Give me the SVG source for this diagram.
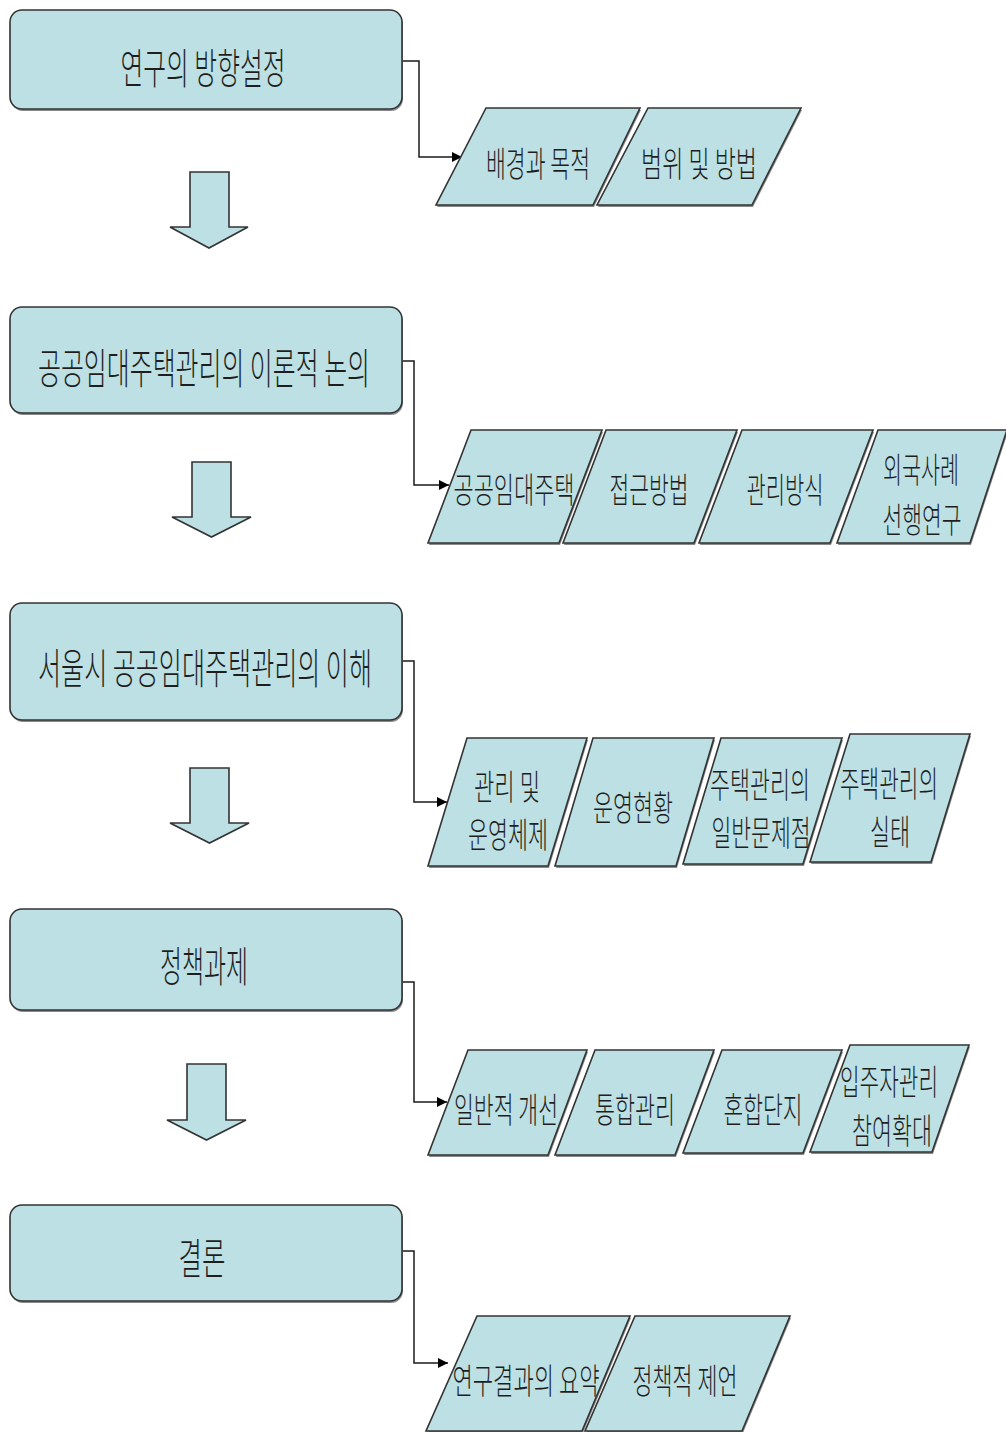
<svg xmlns="http://www.w3.org/2000/svg" width="1006" height="1432" viewBox="0 0 1006 1432">
  <defs>
    <style>
      .box { fill: #bce0e3; stroke: #333333; stroke-width: 1.6; }
      .shadow { fill: #8a8a8a; stroke: none; }
      .step { fill: #bce0e3; stroke: #333333; stroke-width: 1.6; stroke-linejoin: miter; }
      .down { fill: #bce0e3; stroke: #333333; stroke-width: 1.6; }
      .link { fill: none; stroke: #1a1a1a; stroke-width: 1.5; }
      .tb { font-family: "Noto Sans CJK KR", "Noto Sans", sans-serif; font-size: 42px; font-weight: 300; fill: #1e1e1e; text-anchor: middle; dominant-baseline: central; }
      .tp { font-family: "Noto Sans CJK KR", "Noto Sans", sans-serif; font-size: 35px; font-weight: 300; fill: #1e1e1e; text-anchor: middle; dominant-baseline: central; }
    </style>
    <marker id="head" viewBox="0 0 10 10" refX="10" refY="5" markerWidth="10" markerHeight="11" markerUnits="userSpaceOnUse" orient="auto">
      <path d="M0,0 L10,5 L0,10 z" fill="#000"/>
    </marker>
  </defs>

  <rect width="1006" height="1432" fill="#ffffff"/>

  <!-- connectors from each stage to its topic row -->
  <g id="connectors">
    <path class="link" d="M402,61 H419 V157 H462" marker-end="url(#head)"/>
    <path class="link" d="M402,361 H414 V485 H449" marker-end="url(#head)"/>
    <path class="link" d="M402,661 H414 V802 H447" marker-end="url(#head)"/>
    <path class="link" d="M402,982 H414 V1102 H447" marker-end="url(#head)"/>
    <path class="link" d="M402,1251 H414 V1363 H448" marker-end="url(#head)"/>
  </g>

  <!-- stage 1 -->
  <g id="stage1">
    <rect class="shadow" x="11" y="12" width="392" height="99" rx="12"/>
    <rect class="box" x="10" y="10" width="392" height="99" rx="12"/>
    <text class="tb" x="203" y="65" textLength="165" lengthAdjust="spacingAndGlyphs">연구의 방향설정</text>
  </g>
  <g id="arrow1">
    <polygon class="down" points="190,172 229,172 229,227 248,227 209,248 170,227 190,227"/>
  </g>
  <g id="s1-a">
    <polygon class="shadow" points="487,110 641,110 594,207 437,207"/>
    <polygon class="step" points="486,108 640,108 593,205 436,205"/>
    <text class="tp" x="538" y="161" textLength="104" lengthAdjust="spacingAndGlyphs">배경과 목적</text>
  </g>
  <g id="s1-b">
    <polygon class="shadow" points="649,110 802,110 753,207 598,207"/>
    <polygon class="step" points="648,108 801,108 752,205 597,205"/>
    <text class="tp" x="699" y="161" textLength="116" lengthAdjust="spacingAndGlyphs">범위 및 방법</text>
  </g>

  <!-- stage 2 -->
  <g id="stage2">
    <rect class="shadow" x="11" y="309" width="392" height="106" rx="12"/>
    <rect class="box" x="10" y="307" width="392" height="106" rx="12"/>
    <text class="tb" x="204" y="365" textLength="332" lengthAdjust="spacingAndGlyphs">공공임대주택관리의 이론적 논의</text>
  </g>
  <g id="arrow2">
    <polygon class="down" points="192,462 231,462 231,517 251,517 211.5,537 172,517 192,517"/>
  </g>
  <g id="s2-a">
    <polygon class="shadow" points="472,432 603,432 560,545 429,545"/>
    <polygon class="step" points="471,430 602,430 559,543 428,543"/>
    <text class="tp" x="514" y="487" textLength="121" lengthAdjust="spacingAndGlyphs">공공임대주택</text>
  </g>
  <g id="s2-b">
    <polygon class="shadow" points="607,432 738,432 695,545 564,545"/>
    <polygon class="step" points="606,430 737,430 694,543 563,543"/>
    <text class="tp" x="649" y="487" textLength="79" lengthAdjust="spacingAndGlyphs">접근방법</text>
  </g>
  <g id="s2-c">
    <polygon class="shadow" points="743,432 874,432 831,545 700,545"/>
    <polygon class="step" points="742,430 873,430 830,543 699,543"/>
    <text class="tp" x="785" y="487" textLength="77" lengthAdjust="spacingAndGlyphs">관리방식</text>
  </g>
  <g id="s2-d">
    <polygon class="shadow" points="879,432 1008,432 971,545 838,545"/>
    <polygon class="step" points="878,430 1007,430 970,543 837,543"/>
    <text class="tp" x="921" y="467" textLength="76" lengthAdjust="spacingAndGlyphs">외국사례</text>
    <text class="tp" x="922" y="517" textLength="79" lengthAdjust="spacingAndGlyphs">선행연구</text>
  </g>

  <!-- stage 3 -->
  <g id="stage3">
    <rect class="shadow" x="11" y="605" width="392" height="117" rx="12"/>
    <rect class="box" x="10" y="603" width="392" height="117" rx="12"/>
    <text class="tb" x="205" y="665" textLength="334" lengthAdjust="spacingAndGlyphs">서울시 공공임대주택관리의 이해</text>
  </g>
  <g id="arrow3">
    <polygon class="down" points="190,768 229,768 229,823 249,823 209.5,843 170,823 190,823"/>
  </g>
  <g id="s3-a">
    <polygon class="shadow" points="468,740 588,740 549,868 429,868"/>
    <polygon class="step" points="467,738 587,738 548,866 428,866"/>
    <text class="tp" x="507" y="784" textLength="66" lengthAdjust="spacingAndGlyphs">관리 및</text>
    <text class="tp" x="508" y="832" textLength="80" lengthAdjust="spacingAndGlyphs">운영체제</text>
  </g>
  <g id="s3-b">
    <polygon class="shadow" points="594,740 715,740 677,868 556,868"/>
    <polygon class="step" points="593,738 714,738 676,866 555,866"/>
    <text class="tp" x="633" y="805" textLength="80" lengthAdjust="spacingAndGlyphs">운영현황</text>
  </g>
  <g id="s3-c">
    <polygon class="shadow" points="722,740 843,740 804,866 684,866"/>
    <polygon class="step" points="721,738 842,738 803,864 683,864"/>
    <text class="tp" x="760" y="782" textLength="100" lengthAdjust="spacingAndGlyphs">주택관리의</text>
    <text class="tp" x="761" y="830" textLength="99" lengthAdjust="spacingAndGlyphs">일반문제점</text>
  </g>
  <g id="s3-d">
    <polygon class="shadow" points="851,736 971,736 932,864 811,864"/>
    <polygon class="step" points="850,734 970,734 931,862 810,862"/>
    <text class="tp" x="889" y="781" textLength="98" lengthAdjust="spacingAndGlyphs">주택관리의</text>
    <text class="tp" x="890" y="829" textLength="40" lengthAdjust="spacingAndGlyphs">실태</text>
  </g>

  <!-- stage 4 -->
  <g id="stage4">
    <rect class="shadow" x="11" y="911" width="392" height="101" rx="12"/>
    <rect class="box" x="10" y="909" width="392" height="101" rx="12"/>
    <text class="tb" x="204" y="963" textLength="88" lengthAdjust="spacingAndGlyphs">정책과제</text>
  </g>
  <g id="arrow4">
    <polygon class="down" points="187,1064 226,1064 226,1120 246,1120 206.5,1140 167,1120 187,1120"/>
  </g>
  <g id="s4-a">
    <polygon class="shadow" points="469,1052 588,1052 549,1157 429,1157"/>
    <polygon class="step" points="468,1050 587,1050 548,1155 428,1155"/>
    <text class="tp" x="506" y="1107" textLength="104" lengthAdjust="spacingAndGlyphs">일반적 개선</text>
  </g>
  <g id="s4-b">
    <polygon class="shadow" points="596,1052 715,1052 676,1157 556,1157"/>
    <polygon class="step" points="595,1050 714,1050 675,1155 555,1155"/>
    <text class="tp" x="635" y="1107" textLength="80" lengthAdjust="spacingAndGlyphs">통합관리</text>
  </g>
  <g id="s4-c">
    <polygon class="shadow" points="723,1052 843,1052 804,1155 684,1155"/>
    <polygon class="step" points="722,1050 842,1050 803,1153 683,1153"/>
    <text class="tp" x="763" y="1107" textLength="79" lengthAdjust="spacingAndGlyphs">혼합단지</text>
  </g>
  <g id="s4-d">
    <polygon class="shadow" points="851,1047 970,1047 933,1154 811,1154"/>
    <polygon class="step" points="850,1045 969,1045 932,1152 810,1152"/>
    <text class="tp" x="889" y="1079" textLength="98" lengthAdjust="spacingAndGlyphs">입주자관리</text>
    <text class="tp" x="892" y="1128" textLength="80" lengthAdjust="spacingAndGlyphs">참여확대</text>
  </g>

  <!-- stage 5 -->
  <g id="stage5">
    <rect class="shadow" x="11" y="1207" width="392" height="96" rx="12"/>
    <rect class="box" x="10" y="1205" width="392" height="96" rx="12"/>
    <text class="tb" x="202" y="1255" textLength="47" lengthAdjust="spacingAndGlyphs">결론</text>
  </g>
  <g id="s5-a">
    <polygon class="shadow" points="478,1318 631,1318 583,1433 427,1433"/>
    <polygon class="step" points="477,1316 630,1316 582,1431 426,1431"/>
    <text class="tp" x="526" y="1378" textLength="147" lengthAdjust="spacingAndGlyphs">연구결과의 요약</text>
  </g>
  <g id="s5-b">
    <polygon class="shadow" points="636,1318 791,1318 743,1433 586,1433"/>
    <polygon class="step" points="635,1316 790,1316 742,1431 585,1431"/>
    <text class="tp" x="685" y="1378" textLength="105" lengthAdjust="spacingAndGlyphs">정책적 제언</text>
  </g>
</svg>
